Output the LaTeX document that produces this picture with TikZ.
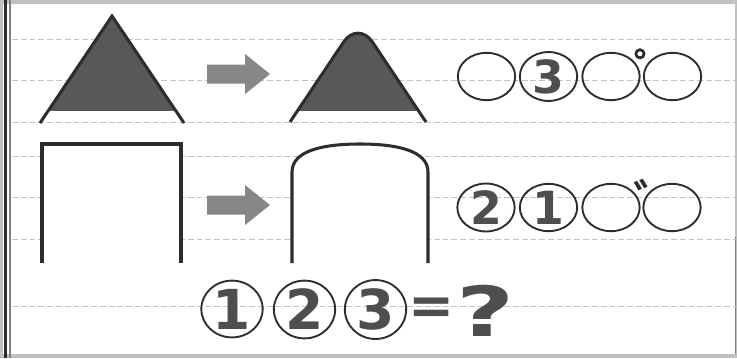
\documentclass[tikz,border=0pt]{standalone}
\usepackage{fontspec}
\setmainfont{DejaVu Sans}
\newfontfamily\jpfont[FakeBold=2]{Noto Sans CJK JP}
\usetikzlibrary{shapes.geometric}
\definecolor{pzline}{RGB}{45,45,45}
\definecolor{pzfill}{RGB}{88,88,88}
\definecolor{pzdigit}{RGB}{78,78,78}
\definecolor{pzarrow}{RGB}{135,135,135}
\definecolor{pzgrid}{RGB}{195,195,195}
\definecolor{pzband}{RGB}{192,192,192}

\begin{document}
\begin{tikzpicture}[x=0.03cm, y=-0.03cm,
  gridline/.style={pzgrid, line width=0.7pt, dash pattern=on 5pt off 2.5pt},
  stroke/.style={pzline, line width=2.6pt},
  ring/.style={ellipse, draw=pzline, line width=1.6pt, inner sep=0pt,
    minimum width=1.72cm, minimum height=1.42cm, text=pzdigit,
    font=\fontsize{39}{39}\selectfont\bfseries},
  bigring/.style={ring, minimum width=1.84cm, minimum height=1.5cm,
    font=\fontsize{47}{47}\selectfont\bfseries},
  kana/.style={inner sep=0pt, text=pzline, font=\jpfont\fontsize{38}{38}\selectfont},
  blockarrow/.style={fill=pzarrow}]
  \useasboundingbox (0,0) rectangle (737,358);

  % Page frame
  \fill[pzband] (0,0) rectangle (737,4);
  \fill[pzband] (0,354) rectangle (737,358);
  \fill[pzband] (0,0) rectangle (3,358);
  \draw[pzline, line width=2.6pt] (5.5,0) -- (5.5,358);
  \draw[gray, line width=1pt] (10,0) -- (10,358);
  \draw[pzband, line width=1pt] (736,0) -- (736,358);
  \draw[gray, line width=1.3pt] (735.5,237) -- (735.5,354);

  % Ruled lines
  \foreach \ly in {39,80,122,156,197,239,306}
    \draw[gridline] (12,\ly) -- (737,\ly);

  % Sharp triangle
  \begin{scope}
    \clip (20,0) rectangle (200,110);
    \fill[pzfill] (40,123) -- (112,16) -- (184,123) -- cycle;
  \end{scope}
  \draw[stroke] (40,123) -- (112,16) -- (184,123);

  % Rounded triangle
  \begin{scope}
    \clip (260,0) rectangle (460,110);
    \fill[pzfill, rounded corners=0.78cm] (271,150) -- (358,20.5) -- (445,150) -- cycle;
  \end{scope}
  \draw[stroke, rounded corners=0.78cm] (290,122) -- (358,20.5) -- (426,122);

  % Square box
  \draw[stroke, fill=white] (42,263) -- (42,144) -- (181,144) -- (181,263);

  % Arched box
  \draw[stroke, fill=white] (292,263) -- (292,172)
       .. controls (292,150) and (325,144) .. (360,144)
       .. controls (395,144) and (428,150) .. (428,172) -- (428,263);

  % Grey arrows
  \foreach \ay in {74,205}
    \fill[blockarrow] (207,\ay-9.5) -- (245,\ay-9.5) -- (245,\ay-20) -- (270,\ay)
      -- (245,\ay+20) -- (245,\ay+9.5) -- (207,\ay+9.5) -- cycle;

  % First answer row
  \node[ring] (top1) at (486.5,76.5) {};
  \node[ring] (top2) at (548.5,76.5) {3};
  \node[ring] (top3) at (611,76.5) {};
  \node[ring] (top4) at (672.5,76.5) {};
  \node[kana] (maru) at (656,67) {゜};

  % Second answer row
  \node[ring] (mid1) at (486,207.5) {2};
  \node[ring] (mid2) at (548.5,207.5) {1};
  \node[ring] (mid3) at (611,207.5) {};
  \node[ring] (mid4) at (672,207.5) {};
  \node[kana] (ten) at (656,198) {゛};

  % Question row
  \node[bigring] (low1) at (232,309) {1};
  \node[bigring] (low2) at (304.5,309.5) {2};
  \node[bigring] (low3) at (375.5,309.5) {3};
  \node[text=pzdigit, font=\fontsize{47}{47}\selectfont\bfseries] (equal) at (432,311.5) {=};
  \node[text=pzdigit, xscale=1.45, font=\fontsize{59}{59}\selectfont\bfseries] (query) at (486,310.5) {?};
\end{tikzpicture}
\end{document}
